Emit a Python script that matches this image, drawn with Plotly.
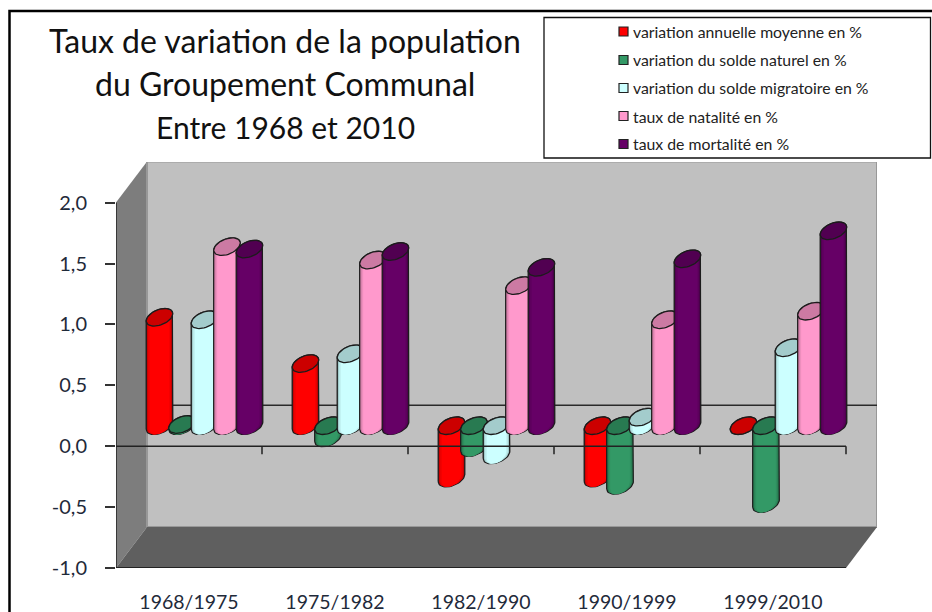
import math
import plotly.graph_objects as go

# ---------- data ----------
categories = ["1968/1975", "1975/1982", "1982/1990", "1990/1999", "1999/2010"]
series_names = [
    "variation annuelle moyenne en %",
    "variation du solde naturel en %",
    "variation du solde migratoire en %",
    "taux de natalité en %",
    "taux de mortalité en %",
]
variation_annuelle = [0.89, 0.51, -0.43, -0.43, 0.0]
solde_naturel = [0.01, -0.10, -0.18, -0.49, -0.64]
solde_migratoire = [0.87, 0.59, -0.24, 0.07, 0.64]
natalite = [1.47, 1.36, 1.15, 0.87, 0.94]
mortalite = [1.45, 1.43, 1.30, 1.37, 1.60]
all_series = [variation_annuelle, solde_naturel, solde_migratoire, natalite, mortalite]
body_colors = ["#FF0000", "#339966", "#CCFFFF", "#FF99CC", "#660066"]
y_ticks = [-1, -0.5, 0, 0.5, 1, 1.5, 2]
y_tick_labels = ["-1,0", "-0,5", "0,0", "0,5", "1,0", "1,5", "2,0"]
title_lines = ["Taux de variation de la population", "du Groupement Communal", "Entre 1968 et 2010"]
title_sizes = [32, 32, 30]

# ---------- geometry of the pseudo-3D box ----------
W, H = 932, 612
L, R, T, B = 116, 877, 162, 568          # plot area in page pixels
PX_CAT = 146.0                           # pixels per category
PX_VAL = 121.8                           # pixels per value unit
DEPTH_X, DEPTH_Y = 31 / PX_CAT, 41 / PX_VAL
X0, X1 = -0.5, -0.5 + (R - L) / PX_CAT
Y0, Y1 = -1.0, -1.0 + (B - T) / PX_VAL
SPACING = 22.5 / PX_CAT
UX, VX, VY = 12.1 / PX_CAT, 5.5 / PX_CAT, 8.8 / PX_VAL
T0 = math.atan2(VX, UX)


def xp(px):
    return (px - L) / (R - L)


def yp(py):
    return (B - py) / (B - T)


def ell(cx, cy, t, f=1.0):
    return cx + f * (UX * math.cos(t) + VX * math.sin(t)), cy + VY * math.sin(t)


def arc(cx, cy, a, b, f=1.0, n=24):
    return [ell(cx, cy, a + (b - a) * i / n, f) for i in range(n + 1)]


def body(cx, top, bot, f):
    pts = arc(cx, bot, T0 + math.pi, T0 + 2 * math.pi, f) + arc(cx, top, T0, T0 + math.pi, f)
    return pts + [pts[0]]


def mix(hex_c, k):
    r, g, b = (int(hex_c[i:i + 2], 16) for i in (1, 3, 5))
    return f"rgb({int(r * k)},{int(g * k)},{int(b * k)})"


def poly_trace(polys, fill, line_color=None, width=0):
    xs, ys = [], []
    for p in polys:
        xs += [q[0] for q in p] + [None]
        ys += [q[1] for q in p] + [None]
    return go.Scatter(
        x=xs, y=ys, mode="lines", fill="toself", fillcolor=fill,
        line=dict(color=line_color or fill, width=width),
        hoverinfo="skip", showlegend=False, cliponaxis=False,
    )


fig = go.Figure()

SHADES = [(1.0, 0.62), (0.94, 0.8), (0.86, 0.93), (0.74, 1.0)]
for j, (vals, col) in enumerate(zip(all_series, body_colors)):
    geo = []
    for k, v in enumerate(vals):
        cx = k + (j - 2) * SPACING + DEPTH_X / 2
        base = DEPTH_Y / 2  # zero plane of the mid-depth row
        geo.append((cx, max(v, 0) + base, min(v, 0) + base))
    for i, (f, shade) in enumerate(SHADES):
        polys = [body(cx, t, b, f) for cx, t, b in geo]
        if i == 0:
            fig.add_trace(poly_trace(polys, mix(col, shade), "#1c1c1c", 1.3))
        else:
            fig.add_trace(poly_trace(polys, mix(col, shade)))
    caps = [arc(cx, t, 0, 2 * math.pi, 1.0, 48) for cx, t, b in geo]
    fig.add_trace(poly_trace(caps, mix(col, 0.8), "#1c1c1c", 1.3))


def line_trace(xs, ys, color="#222222", width=1.5):
    return go.Scatter(x=xs, y=ys, mode="lines", line=dict(color=color, width=width),
                      hoverinfo="skip", showlegend=False, cliponaxis=False)


front_right = -0.5 + len(categories)
tick_len = 8 / PX_VAL
fig.add_trace(line_trace([-0.5, front_right], [0, 0]))
for k in range(1, len(categories) + 1):
    fig.add_trace(line_trace([k - 0.5, k - 0.5], [0, -tick_len]))
fig.add_trace(line_trace([-0.5, -0.5], [-1, 2]))
fig.add_trace(line_trace([-0.5 - 10 / PX_CAT, front_right], [-1, -1], "#222222", 2))

shapes = [
    # left wall
    dict(type="path", xref="x", yref="y", layer="below", line=dict(width=0), fillcolor="#7d7d7d",
         path=f"M {X0} 2 L {X0 + DEPTH_X} {2 + DEPTH_Y} L {X0 + DEPTH_X} {-1 + DEPTH_Y} L {X0} -1 Z"),
    # back wall
    dict(type="rect", xref="x", yref="y", layer="below", line=dict(color="#989898", width=2),
         fillcolor="#C0C0C0", x0=X0 + DEPTH_X, x1=front_right + DEPTH_X, y0=-1 + DEPTH_Y, y1=2 + DEPTH_Y),
    # floor
    dict(type="path", xref="x", yref="y", layer="below", line=dict(width=0), fillcolor="#5f5f5f",
         path=f"M {X0} -1 L {X0 + DEPTH_X} {-1 + DEPTH_Y} L {front_right + DEPTH_X} {-1 + DEPTH_Y} "
              f"L {front_right} -1 Z"),
    # zero line on the back wall
    dict(type="line", xref="x", yref="y", layer="below", line=dict(color="#2a2a2a", width=1.5),
         x0=X0 + DEPTH_X, x1=front_right + DEPTH_X, y0=DEPTH_Y, y1=DEPTH_Y),
    # outer frame
    dict(type="path", xref="paper", yref="paper", line=dict(color="#000000", width=2.5),
         path=f"M {xp(9.5)} {yp(615)} L {xp(9.5)} {yp(11)} L {xp(935)} {yp(11)}"),
    # legend box
    dict(type="rect", xref="paper", yref="paper", line=dict(color="#111111", width=1.3), fillcolor="#FFFFFF",
         x0=xp(544), x1=xp(930.5), y0=yp(158), y1=yp(17.5)),
]

annotations = []
for text, py, size in zip(title_lines, [40, 84, 127], title_sizes):
    annotations.append(dict(text=text, xref="paper", yref="paper", x=xp(285), y=yp(py), showarrow=False,
                            xanchor="center", yanchor="middle",
                            font=dict(family="Lato", size=size, color="#111111")))

legend_y = [31.5, 60, 88, 116, 144]
for name, col, py in zip(series_names, body_colors, legend_y):
    shapes.append(dict(type="rect", xref="paper", yref="paper", fillcolor=col,
                       line=dict(color="#222222", width=1.2),
                       x0=xp(619), x1=xp(628), y0=yp(py + 4.5), y1=yp(py - 4.5)))
    annotations.append(dict(text=name, xref="paper", yref="paper", x=xp(631), y=yp(py), showarrow=False,
                            xanchor="left", yanchor="middle",
                            font=dict(family="Lato", size=15.8, color="#222222")))

fig.update_layout(
    width=W, height=H, autosize=False,
    margin=dict(l=L, r=W - R, t=T, b=H - B, pad=0, autoexpand=False),
    paper_bgcolor="#FFFFFF", plot_bgcolor="#FFFFFF",
    showlegend=False,
    shapes=shapes, annotations=annotations,
    xaxis=dict(range=[X0, X1], tickmode="array", tickvals=list(range(len(categories))), ticktext=categories,
               showgrid=False, zeroline=False, showline=False, ticks="", ticklabelstandoff=20,
               automargin=False, tickfont=dict(family="Lato", size=19.5, color="#1f2a3a")),
    yaxis=dict(range=[Y0, Y1], tickmode="array", tickvals=y_ticks, ticktext=y_tick_labels,
               showgrid=False, zeroline=False, showline=False, ticks="outside", ticklen=10, tickwidth=1.5,
               automargin=False, tickcolor="#333333", ticklabelstandoff=14,
               tickfont=dict(family="Lato", size=20, color="#1f2a3a")),
)

fig.write_html("out.html", config=dict(displayModeBar=False),
               post_script="document.body.style.margin='0';document.documentElement.style.overflow='hidden';")
